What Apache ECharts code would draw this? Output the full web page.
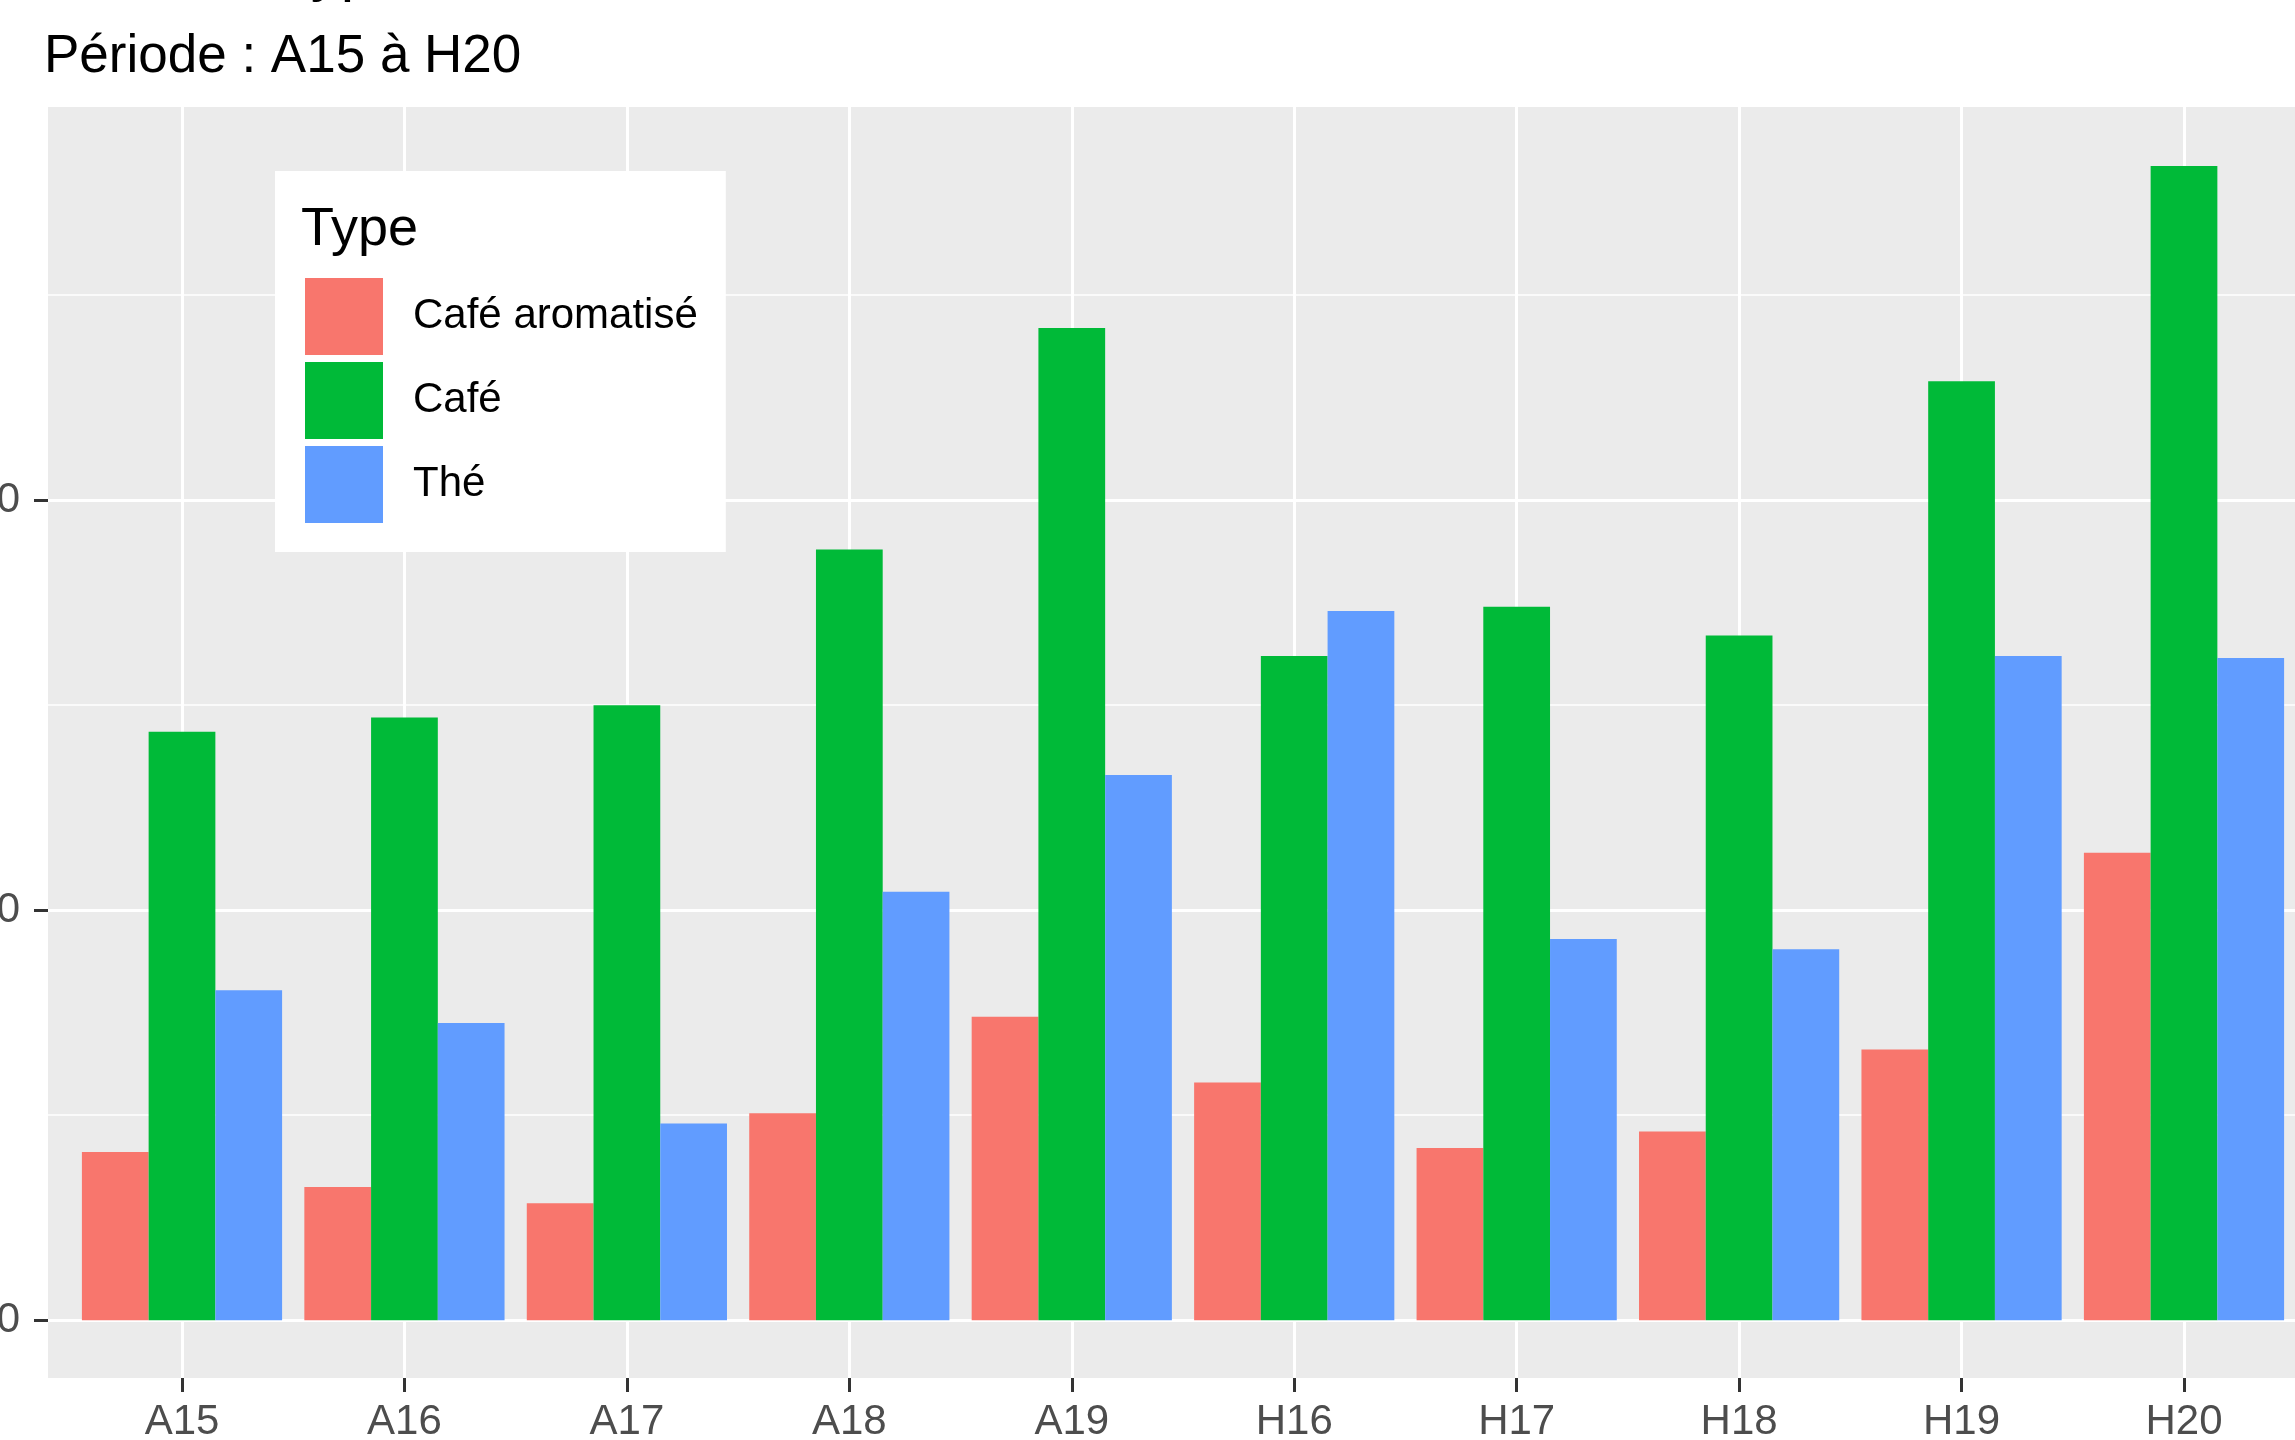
<!DOCTYPE html>
<html>
<head>
<meta charset="utf-8">
<title>Ventes par type</title>
<script src="https://cdn.jsdelivr.net/npm/echarts@6/dist/echarts.min.js"></script>
<style>
  html, body { margin: 0; padding: 0; background: #fff; }
  #chart { width: 2295px; height: 1440px; }
</style>
</head>
<body>
<div id="chart"></div>
<script>
// valeurs
var periodes = ['A15', 'A16', 'A17', 'A18', 'A19', 'H16', 'H17', 'H18', 'H19', 'H20']
var types = ['Café aromatisé', 'Café', 'Thé']
var cafeAromatise = [4.1, 3.25, 2.85, 5.05, 7.4, 5.8, 4.2, 4.6, 6.6, 11.4]
var cafe = [14.35, 14.7, 15.0, 18.8, 24.2, 16.2, 17.4, 16.7, 22.9, 28.15]
var the = [8.05, 7.25, 4.8, 10.45, 13.3, 17.3, 9.3, 9.05, 16.2, 16.15]
var yTicks = [0, 10, 20]
var couleurs = ['#F8766D', '#00BA38', '#619CFF']

var font = '"Liberation Sans", Arial, sans-serif'
// ggplot : expansion de 5% au-dessus et en dessous de l'etendue [0, max]
var yMax = 29.59
var yMin = -1.41

var myChart = echarts.init(document.getElementById('chart'))

function barSerie(name, values, idx) {
  return {
    name: name,
    type: 'bar',
    xAxisIndex: 1,
    yAxisIndex: 1,
    data: values,
    barGap: '0%',
    barCategoryGap: '10%',
    clip: false,
    itemStyle: { color: couleurs[idx] },
    emphasis: { disabled: true }
  }
}

myChart.setOption({
  animation: false,
  backgroundColor: '#fff',
  title: [
    {
      text: 'Ventes : Type de boisson',
      left: 44,
      top: -57,
      padding: 0,
      textStyle: { fontFamily: font, fontSize: 60, fontWeight: 'normal', color: '#000', lineHeight: 60 }
    },
    {
      text: 'Période : A15 à H20',
      left: 44,
      top: 31,
      padding: 0,
      textStyle: { fontFamily: font, fontSize: 53, fontWeight: 'normal', color: '#000', lineHeight: 53 }
    },
    {
      text: 'Type',
      left: 301,
      top: 203,
      padding: 0,
      textStyle: { fontFamily: font, fontSize: 54, fontWeight: 'normal', color: '#000', lineHeight: 54 }
    }
  ],
  legend: {
    orient: 'vertical',
    left: 275,
    top: 171,
    padding: [107, 28, 29, 30],
    backgroundColor: '#fff',
    itemWidth: 78,
    itemHeight: 77,
    itemGap: 7,
    icon: 'rect',
    selectedMode: false,
    data: types,
    textStyle: { fontFamily: font, fontSize: 42, color: '#000', padding: [12, 0, 0, 25] }
  },
  graphic: [
    {
      type: 'rect',
      z: -10,
      shape: { x: 48, y: 107, width: 2300, height: 1271 },
      style: { fill: '#EBEBEB' }
    }
  ],
  grid: [
    // grille horizontale sur tout le panneau
    { left: 48, right: -30, top: 107, bottom: 120, outerBoundsMode: 'none' },
    // barres et grille verticale
    { left: 182, right: 111, top: 107, bottom: 62, outerBoundsMode: 'none' }
  ],
  xAxis: [
    { type: 'value', gridIndex: 0, show: false, min: 0, max: 1 },
    {
      type: 'category',
      gridIndex: 1,
      data: periodes,
      boundaryGap: false,
      axisLine: { show: false, onZero: false },
      axisTick: { show: true, length: 14, lineStyle: { color: '#333', width: 3 } },
      axisLabel: { interval: 0, margin: 23, fontFamily: font, fontSize: 42, color: '#4D4D4D' },
      splitLine: { show: true, lineStyle: { color: '#fff', width: 3 } }
    }
  ],
  yAxis: [
    {
      type: 'value',
      gridIndex: 0,
      min: 0,
      max: yMax,
      interval: 10,
      axisLine: { show: false },
      axisTick: { show: true, length: 14, customValues: yTicks, lineStyle: { color: '#333', width: 3 } },
      axisLabel: { margin: 28, customValues: yTicks, fontFamily: font, fontSize: 42, color: '#4D4D4D' },
      splitLine: { show: true, lineStyle: { color: '#fff', width: 3 } },
      minorTick: { show: false, splitNumber: 2 },
      minorSplitLine: { show: true, lineStyle: { color: '#fff', width: 1.5 } }
    },
    {
      type: 'value',
      gridIndex: 1,
      min: yMin,
      max: yMax,
      show: false,
      splitLine: { show: false }
    }
  ],
  series: [
    barSerie(types[0], cafeAromatise, 0),
    barSerie(types[1], cafe, 1),
    barSerie(types[2], the, 2)
  ]
})
</script>
</body>
</html>
